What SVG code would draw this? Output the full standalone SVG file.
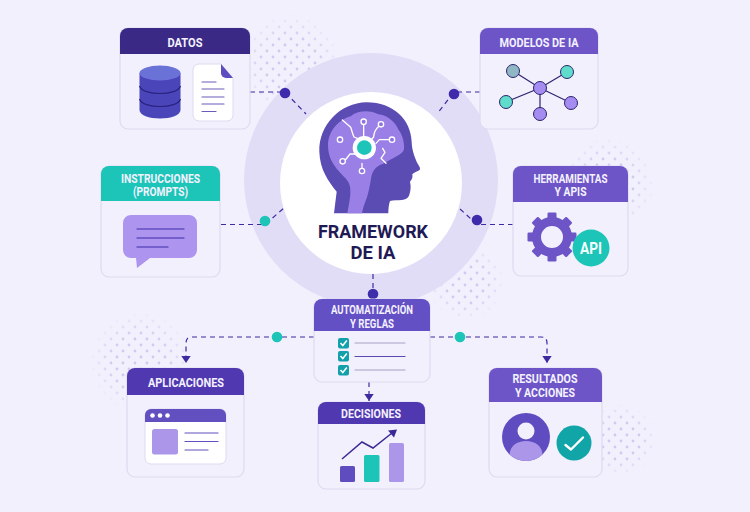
<svg xmlns="http://www.w3.org/2000/svg" xmlns:xlink="http://www.w3.org/1999/xlink" width="750" height="512" viewBox="0 0 750 512">
  <style>
    .card { fill: #f2f0fc; stroke: #dedaf2; stroke-width: 1.2; }
    .title { font-family: Roboto, "Liberation Sans", sans-serif; font-weight: 700; font-size: 12.500px; fill: #f4f1ff; text-anchor: middle; }
    .hero { font-family: Roboto, "Liberation Sans", sans-serif; font-weight: 700; font-size: 19px; fill: #1f1a55; text-anchor: middle; }
    .dash { fill: none; stroke: #3d2ba0; stroke-width: 1.2; stroke-dasharray: 5 4; }
    .hub { fill: #3d2bab; }
    .teal { fill: #1cc5b7; }
    .rule { fill: none; stroke-width: 1.2; stroke-linecap: round; }
    .circuit { fill: none; stroke: #fff; stroke-width: 4; stroke-linecap: round; stroke-linejoin: round; }
    .pad { fill: #8f74e0; stroke: #fff; stroke-width: 4; }
    .net { fill: none; stroke: #2d2470; stroke-width: 1.2; }
    .nd { stroke: #2d2470; stroke-width: 1; }
  </style>
  <defs>
    <pattern id="dots" width="12" height="12" patternUnits="userSpaceOnUse">
      <circle cx="3" cy="3" r="1.400" fill="#cfcaef"/>
      <circle cx="9" cy="9" r="1.400" fill="#cfcaef"/>
    </pattern>
    <radialGradient id="fadeGrad">
      <stop offset="0.55" stop-color="#fff"/>
      <stop offset="1" stop-color="#000"/>
    </radialGradient>
    <mask id="fade" maskContentUnits="objectBoundingBox">
      <rect width="1" height="1" fill="url(#fadeGrad)"/>
    </mask>
    <marker id="arrow" markerWidth="8" markerHeight="10" refX="7.500" refY="5" orient="auto" markerUnits="userSpaceOnUse">
      <path d="M0 0L7.500 5L0 10Z" fill="#3d2ba0"/>
    </marker>
    <rect id="tooth" x="-4.500" y="-24.500" width="9" height="10" rx="1.200" fill="#6d55c8"/>
  </defs>

  <rect width="750" height="512" fill="#f2f0fd"/>

  <!-- soft dot fields -->
  <g>
    <circle cx="290" cy="64" r="50" fill="url(#dots)" mask="url(#fade)"/>
    <circle cx="608" cy="184" r="46" fill="url(#dots)" mask="url(#fade)"/>
    <circle cx="466" cy="282" r="38" fill="url(#dots)" mask="url(#fade)"/>
    <circle cx="140" cy="362" r="50" fill="url(#dots)" mask="url(#fade)"/>
    <circle cx="620" cy="440" r="36" fill="url(#dots)" mask="url(#fade)"/>
  </g>

  <circle cx="371" cy="180" r="127" fill="#e2ddf7"/>

  <g id="connectors">
    <path class="dash" d="M250 92H285L306 114"/>
    <path class="dash" d="M480 92H454L437 114"/>
    <path class="dash" d="M221 224.500H265L284 208"/>
    <path class="dash" d="M513 224.500H477L459 208"/>
    <path class="dash" d="M373 274V296"/>
    <path class="dash" d="M314 337H192Q186 337 186 343V363" marker-end="url(#arrow)"/>
    <path class="dash" d="M430 337H541Q547 337 547 343V363" marker-end="url(#arrow)"/>
    <path class="dash" d="M369 382V401" marker-end="url(#arrow)"/>
    <circle class="hub" cx="285" cy="93" r="5.300"/>
    <circle class="hub" cx="454" cy="94" r="5.300"/>
    <circle class="teal" cx="265" cy="221" r="5.300"/>
    <circle class="hub" cx="477" cy="220" r="5.300"/>
    <circle cx="373" cy="294" r="5.300" fill="#3f2eaa"/>
    <circle class="teal" cx="277" cy="337" r="5.300"/>
    <circle class="teal" cx="460" cy="337" r="5.300"/>
  </g>

  <g id="framework">
    <circle cx="371" cy="183" r="91" fill="#fff"/>
    <!-- head silhouette, drawn at triple scale -->
    <g transform="translate(310 95) scale(0.3333)">
      <path fill="#5a4cb2" d="M72 355L80 290C55 258 30 225 28 170C26 90 90 24 170 22C250 22 303 75 305 140C306 165 312 180 320 200C326 212 334 220 328 226C320 231 310 233 307 238C309 246 306 254 300 260C303 272 302 282 300 292C297 308 290 314 275 315C262 316 250 316 240 318C236 330 235 343 235 355Z"/>
      <path fill="#9a7fe6" d="M112 355C116 330 124 300 120 275C117 255 100 245 88 230C68 208 54 185 54 150C54 112 82 76 122 64C142 46 180 44 205 58C230 60 256 80 266 105C278 120 284 145 282 162C280 174 266 180 256 186C244 192 232 200 220 206C200 212 188 225 184 245C180 270 175 300 166 320C162 330 158 343 156 355Z"/>
      <path class="circuit" d="M161 88V125M97 75L122 97C126 108 128 118 132 126L142 130M205 95C195 104 192 112 191 126L183 135M238 134H208L198 145M106 195L120 177H135M156 220V205M218 160L225 172L213 190L228 205"/>
      <circle class="pad" cx="161" cy="80" r="8"/>
      <circle class="pad" cx="213" cy="88" r="8"/>
      <circle class="pad" cx="246" cy="134" r="8"/>
      <circle class="pad" cx="90" cy="134" r="8"/>
      <circle class="pad" cx="98" cy="199" r="8"/>
      <circle class="pad" cx="156" cy="228" r="8"/>
      <circle cx="163" cy="158" r="35" fill="#fff"/>
      <circle cx="163" cy="158" r="22" fill="#1cc5b7"/>
    </g>
    <text class="hero" x="373" y="238" textLength="110" lengthAdjust="spacingAndGlyphs">FRAMEWORK</text>
    <text class="hero" x="373" y="259" textLength="45" lengthAdjust="spacingAndGlyphs">DE IA</text>
  </g>

  <g id="datos">
    <rect class="card" x="120" y="28" width="130" height="101" rx="8"/>
    <path fill="#3a2a85" d="M120 54V36a8 8 0 0 1 8-8H242a8 8 0 0 1 8 8V54Z"/>
    <text class="title" x="185" y="47" textLength="35" lengthAdjust="spacingAndGlyphs">DATOS</text>
    <path fill="#4a45b8" d="M139.500 73V110C139.500 115 149 118.500 160 118.500C171 118.500 180.500 115 180.500 110V73Z"/>
    <ellipse cx="160" cy="73" rx="20.500" ry="7.500" fill="#6a72d8"/>
    <path fill="none" stroke="#2a2280" stroke-width="1.100" d="M139.500 86C141 91 150 93.500 160 93.500C170 93.500 179 91 180.500 86M139.500 99C141 104 150 106.500 160 106.500C170 106.500 179 104 180.500 99"/>
    <path fill="#fff" stroke="#dedaf2" d="M199 64H221L233 78V115a6 6 0 0 1-6 6H199a6 6 0 0 1-6-6V70a6 6 0 0 1 6-6Z"/>
    <path fill="#5b4cc0" d="M221 64L233 78H226a5 5 0 0 1-5-5Z"/>
    <path class="rule" stroke="#6b5bb8" d="M202 82H216M202 89H224M202 97H224M202 104H224M202 111.500H216"/>
  </g>

  <g id="modelos">
    <rect class="card" x="480" y="28" width="118" height="101" rx="8"/>
    <path fill="#6d55c8" d="M480 54V36a8 8 0 0 1 8-8H590a8 8 0 0 1 8 8V54Z"/>
    <text class="title" x="539" y="47" textLength="79" lengthAdjust="spacingAndGlyphs">MODELOS DE IA</text>
    <path class="net" d="M540 88L513 71M540 88L567 72M540 88L506 102M540 88L571 103M540 88V114"/>
    <circle class="nd" cx="513" cy="71" r="6.500" fill="#8fb8c4"/>
    <circle class="nd" cx="567" cy="72" r="6.500" fill="#5fdccc"/>
    <circle class="nd" cx="506" cy="102" r="6.500" fill="#5fdccc"/>
    <circle class="nd" cx="571" cy="103" r="6.500" fill="#a58cf0"/>
    <circle class="nd" cx="540" cy="114" r="6.500" fill="#a58cf0"/>
    <circle class="nd" cx="540" cy="88" r="6.500" fill="#a58cf0"/>
  </g>

  <g id="instrucciones">
    <rect class="card" x="101" y="166" width="119" height="111" rx="8"/>
    <path fill="#1cc5b7" d="M101 201V174a8 8 0 0 1 8-8H212a8 8 0 0 1 8 8V201Z"/>
    <text class="title" x="160.500" y="182.500" textLength="79" lengthAdjust="spacingAndGlyphs">INSTRUCCIONES</text>
    <text class="title" x="160.500" y="196" textLength="55" lengthAdjust="spacingAndGlyphs">(PROMPTS)</text>
    <path fill="#ad94ee" d="M131 215H189a8 8 0 0 1 8 8V250a8 8 0 0 1-8 8H150L137 268L136 258H131a8 8 0 0 1-8-8V223a8 8 0 0 1 8-8Z"/>
    <path class="rule" stroke="#3d2ba8" d="M137 229H184M137 238H184M137 247H168"/>
  </g>

  <g id="herramientas">
    <rect class="card" x="513" y="166" width="115" height="110" rx="8"/>
    <path fill="#6d55c8" d="M513 202V174a8 8 0 0 1 8-8H620a8 8 0 0 1 8 8V202Z"/>
    <text class="title" x="570.500" y="182.500" textLength="74" lengthAdjust="spacingAndGlyphs">HERRAMIENTAS</text>
    <text class="title" x="570.500" y="196" textLength="32" lengthAdjust="spacingAndGlyphs">Y APIS</text>
    <g transform="translate(552 237)">
      <use xlink:href="#tooth" href="#tooth"/>
      <use xlink:href="#tooth" href="#tooth" transform="rotate(45)"/>
      <use xlink:href="#tooth" href="#tooth" transform="rotate(90)"/>
      <use xlink:href="#tooth" href="#tooth" transform="rotate(135)"/>
      <use xlink:href="#tooth" href="#tooth" transform="rotate(180)"/>
      <use xlink:href="#tooth" href="#tooth" transform="rotate(225)"/>
      <use xlink:href="#tooth" href="#tooth" transform="rotate(270)"/>
      <use xlink:href="#tooth" href="#tooth" transform="rotate(315)"/>
      <circle r="15.500" fill="none" stroke="#6d55c8" stroke-width="9"/>
    </g>
    <circle cx="591" cy="248" r="18.500" fill="#1cc5b7"/>
    <text x="591" y="254" font-family="Roboto, 'Liberation Sans', sans-serif" font-weight="700" font-size="17" fill="#f2fffd" text-anchor="middle" textLength="22" lengthAdjust="spacingAndGlyphs">API</text>
  </g>

  <g id="automatizacion">
    <rect class="card" x="314" y="299" width="116" height="83" rx="8"/>
    <path fill="#6350c4" d="M314 331V307a8 8 0 0 1 8-8H422a8 8 0 0 1 8 8V331Z"/>
    <text class="title" x="372" y="314" textLength="82" lengthAdjust="spacingAndGlyphs">AUTOMATIZACIÓN</text>
    <text class="title" x="372" y="327.500" textLength="44" lengthAdjust="spacingAndGlyphs">Y REGLAS</text>
    <rect x="338" y="338" width="11" height="10.500" rx="2" fill="#12a0aa"/>
    <rect x="338" y="351" width="11" height="10.500" rx="2" fill="#12a0aa"/>
    <rect x="338" y="365" width="11" height="10.500" rx="2" fill="#12a0aa"/>
    <path fill="none" stroke="#fff" stroke-width="1.500" d="M340.500 343L342.800 345.500L346.800 340.500M340.500 356L342.800 358.500L346.800 353.500M340.500 370L342.800 372.500L346.800 367.500"/>
    <path class="rule" stroke="#a3a0c4" d="M355 343H405M355 370H405"/>
    <path class="rule" stroke="#5a4ab0" d="M355 356.500H405"/>
  </g>

  <g id="aplicaciones">
    <rect class="card" x="127" y="368" width="117" height="109" rx="8"/>
    <path fill="#4f38b0" d="M127 395V376a8 8 0 0 1 8-8H236a8 8 0 0 1 8 8V395Z"/>
    <text class="title" x="186" y="387" textLength="76" lengthAdjust="spacingAndGlyphs">APLICACIONES</text>
    <rect x="145" y="409" width="81" height="55" rx="6" fill="#fff" stroke="#dedaf2"/>
    <path fill="#6350c0" d="M145 422V415a6 6 0 0 1 6-6H220a6 6 0 0 1 6 6V422Z"/>
    <circle cx="152.500" cy="415.500" r="2.300" fill="#fff"/>
    <circle cx="160" cy="415.500" r="2.300" fill="#fff"/>
    <circle cx="167.500" cy="415.500" r="2.300" fill="#fff"/>
    <rect x="152" y="429" width="26" height="25.500" rx="2.500" fill="#ab96ea"/>
    <path class="rule" stroke="#6350c0" d="M185 433H218M185 441.500H218M185 450H208"/>
  </g>

  <g id="decisiones">
    <rect class="card" x="318" y="402" width="107" height="87" rx="8"/>
    <path fill="#4f38b0" d="M318 424V410a8 8 0 0 1 8-8H417a8 8 0 0 1 8 8V424Z"/>
    <text class="title" x="371" y="418" textLength="60" lengthAdjust="spacingAndGlyphs">DECISIONES</text>
    <rect x="340" y="466" width="15" height="16" rx="1.500" fill="#5f4cbe"/>
    <rect x="364" y="455" width="15.500" height="27" rx="1.500" fill="#1cc5b7"/>
    <rect x="389" y="443" width="15" height="39" rx="1.500" fill="#ab96ea"/>
    <path fill="none" stroke="#3a2a95" stroke-width="1.500" d="M342 459L362 442L373 448L392 433"/>
    <path fill="#3a2a95" d="M397 429.500L388 430.500L394 437.500Z"/>
  </g>

  <g id="resultados">
    <rect class="card" x="489" y="368" width="113" height="109" rx="8"/>
    <path fill="#6d55c8" d="M489 402V376a8 8 0 0 1 8-8H594a8 8 0 0 1 8 8V402Z"/>
    <text class="title" x="545" y="382.500" textLength="65" lengthAdjust="spacingAndGlyphs">RESULTADOS</text>
    <text class="title" x="545" y="397" textLength="60" lengthAdjust="spacingAndGlyphs">Y ACCIONES</text>
    <circle cx="526" cy="437" r="24" fill="#5f4cc0"/>
    <path fill="#ab96ea" d="M509.500 454.500C510 446 517 441 526 441C535 441 542 446 542.500 454.500A24 24 0 0 1 509.500 454.500Z"/>
    <circle cx="526" cy="431" r="8.500" fill="#f2f0fc"/>
    <circle cx="574" cy="443" r="17.500" fill="#12a5a8"/>
    <path fill="none" stroke="#fff" stroke-width="2.400" stroke-linecap="round" stroke-linejoin="round" d="M565.500 445L571 449.500L583 437.500"/>
  </g>
</svg>
